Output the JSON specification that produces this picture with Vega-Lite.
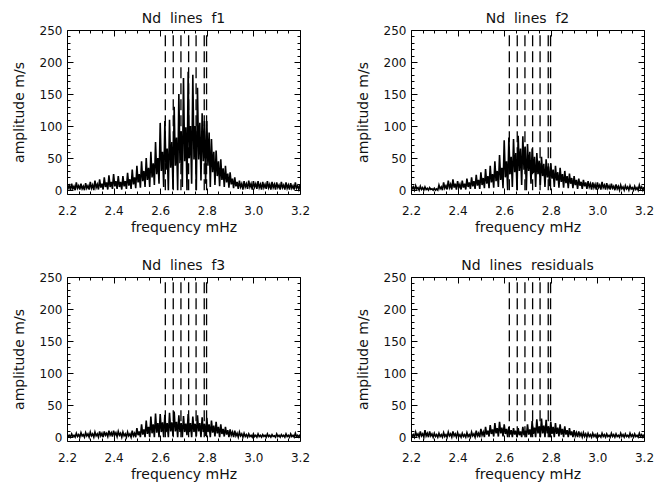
{
"$schema":"https://vega.github.io/schema/vega-lite/v6.json",
"autosize":{"type":"none"},
"padding":{"left":67,"top":30,"right":598,"bottom":453},
"background":"white",
"columns":2,
"spacing":{"row":83,"column":111},
"bounds":"flush",
"config":{
 "view":{"stroke":"black","strokeWidth":1},
 "font":"DejaVu Sans",
 "axis":{"grid":false,"domain":false,"labelFont":"DejaVu Sans","labelFontSize":12,"labelColor":"#111","titleFont":"DejaVu Sans","titleFontSize":14,"titleFontWeight":"normal","titleColor":"#111","tickColor":"black","tickWidth":1,"labelFlush":false,"labelOverlap":false},
 "title":{"fontSize":14,"fontWeight":"normal","color":"#111","offset":-2,"frame":"group","font":"DejaVu Sans"}
},
"datasets":{
"lines":[{"x":2.622},{"x":2.656},{"x":2.689},{"x":2.722},{"x":2.754},{"x":2.789},{"x":2.799}],
"f1":[{"x":2.2,"y":11},{"x":2.205,"y":3},{"x":2.21,"y":7},{"x":2.215,"y":0},{"x":2.22,"y":10},{"x":2.225,"y":2},{"x":2.23,"y":6},{"x":2.235,"y":0},{"x":2.24,"y":12},{"x":2.245,"y":3},{"x":2.25,"y":7},{"x":2.255,"y":1},{"x":2.26,"y":10},{"x":2.265,"y":2},{"x":2.27,"y":6},{"x":2.275,"y":0},{"x":2.28,"y":11},{"x":2.285,"y":3},{"x":2.29,"y":7},{"x":2.295,"y":1},{"x":2.3,"y":13},{"x":2.305,"y":3},{"x":2.31,"y":8},{"x":2.315,"y":0},{"x":2.32,"y":15},{"x":2.325,"y":4},{"x":2.33,"y":9},{"x":2.335,"y":1},{"x":2.34,"y":17},{"x":2.345,"y":4},{"x":2.35,"y":10},{"x":2.355,"y":1},{"x":2.36,"y":20},{"x":2.365,"y":5},{"x":2.37,"y":12},{"x":2.375,"y":1},{"x":2.38,"y":23},{"x":2.385,"y":5},{"x":2.39,"y":13},{"x":2.395,"y":2},{"x":2.4,"y":25},{"x":2.405,"y":6},{"x":2.41,"y":14},{"x":2.415,"y":2},{"x":2.42,"y":22},{"x":2.425,"y":5},{"x":2.43,"y":13},{"x":2.435,"y":1},{"x":2.44,"y":22},{"x":2.445,"y":6},{"x":2.45,"y":14},{"x":2.455,"y":2},{"x":2.46,"y":27},{"x":2.465,"y":7},{"x":2.47,"y":17},{"x":2.475,"y":2},{"x":2.48,"y":32},{"x":2.485,"y":9},{"x":2.49,"y":20},{"x":2.495,"y":3},{"x":2.5,"y":38},{"x":2.505,"y":12},{"x":2.51,"y":25},{"x":2.515,"y":4},{"x":2.52,"y":45},{"x":2.525,"y":14},{"x":2.53,"y":30},{"x":2.535,"y":5},{"x":2.54,"y":50},{"x":2.545,"y":16},{"x":2.55,"y":35},{"x":2.555,"y":5},{"x":2.56,"y":60},{"x":2.565,"y":20},{"x":2.57,"y":42},{"x":2.575,"y":8},{"x":2.58,"y":75},{"x":2.585,"y":25},{"x":2.59,"y":50},{"x":2.595,"y":10},{"x":2.6,"y":105},{"x":2.605,"y":30},{"x":2.61,"y":60},{"x":2.615,"y":5},{"x":2.62,"y":108},{"x":2.625,"y":32},{"x":2.63,"y":65},{"x":2.635,"y":0},{"x":2.64,"y":110},{"x":2.645,"y":35},{"x":2.65,"y":75},{"x":2.655,"y":2},{"x":2.66,"y":130},{"x":2.665,"y":38},{"x":2.67,"y":82},{"x":2.675,"y":0},{"x":2.68,"y":150},{"x":2.685,"y":42},{"x":2.69,"y":92},{"x":2.695,"y":5},{"x":2.7,"y":175},{"x":2.705,"y":45},{"x":2.71,"y":98},{"x":2.715,"y":0},{"x":2.72,"y":185},{"x":2.725,"y":50},{"x":2.73,"y":100},{"x":2.735,"y":10},{"x":2.74,"y":180},{"x":2.745,"y":48},{"x":2.75,"y":100},{"x":2.755,"y":0},{"x":2.76,"y":160},{"x":2.765,"y":48},{"x":2.77,"y":105},{"x":2.775,"y":15},{"x":2.78,"y":120},{"x":2.785,"y":45},{"x":2.79,"y":108},{"x":2.795,"y":10},{"x":2.8,"y":108},{"x":2.805,"y":38},{"x":2.81,"y":90},{"x":2.815,"y":5},{"x":2.82,"y":80},{"x":2.825,"y":28},{"x":2.83,"y":60},{"x":2.835,"y":8},{"x":2.84,"y":62},{"x":2.845,"y":22},{"x":2.85,"y":45},{"x":2.855,"y":6},{"x":2.86,"y":48},{"x":2.865,"y":16},{"x":2.87,"y":34},{"x":2.875,"y":5},{"x":2.88,"y":38},{"x":2.885,"y":12},{"x":2.89,"y":26},{"x":2.895,"y":4},{"x":2.9,"y":28},{"x":2.905,"y":9},{"x":2.91,"y":18},{"x":2.915,"y":3},{"x":2.92,"y":20},{"x":2.925,"y":6},{"x":2.93,"y":13},{"x":2.935,"y":2},{"x":2.94,"y":15},{"x":2.945,"y":5},{"x":2.95,"y":10},{"x":2.955,"y":1},{"x":2.96,"y":14},{"x":2.965,"y":5},{"x":2.97,"y":10},{"x":2.975,"y":2},{"x":2.98,"y":15},{"x":2.985,"y":5},{"x":2.99,"y":10},{"x":2.995,"y":1},{"x":3.0,"y":14},{"x":3.005,"y":5},{"x":3.01,"y":10},{"x":3.015,"y":2},{"x":3.02,"y":14},{"x":3.025,"y":4},{"x":3.03,"y":9},{"x":3.035,"y":1},{"x":3.04,"y":13},{"x":3.045,"y":4},{"x":3.05,"y":9},{"x":3.055,"y":2},{"x":3.06,"y":14},{"x":3.065,"y":4},{"x":3.07,"y":9},{"x":3.075,"y":1},{"x":3.08,"y":13},{"x":3.085,"y":4},{"x":3.09,"y":9},{"x":3.095,"y":1},{"x":3.1,"y":12},{"x":3.105,"y":4},{"x":3.11,"y":8},{"x":3.115,"y":1},{"x":3.12,"y":13},{"x":3.125,"y":4},{"x":3.13,"y":8},{"x":3.135,"y":1},{"x":3.14,"y":12},{"x":3.145,"y":3},{"x":3.15,"y":8},{"x":3.155,"y":1},{"x":3.16,"y":11},{"x":3.165,"y":3},{"x":3.17,"y":7},{"x":3.175,"y":1},{"x":3.18,"y":12},{"x":3.185,"y":3},{"x":3.19,"y":7},{"x":3.195,"y":1},{"x":3.2,"y":8}],
"f2":[{"x":2.2,"y":8},{"x":2.205,"y":2},{"x":2.21,"y":5},{"x":2.215,"y":0},{"x":2.22,"y":7},{"x":2.225,"y":2},{"x":2.23,"y":4},{"x":2.235,"y":0},{"x":2.24,"y":6},{"x":2.245,"y":1},{"x":2.25,"y":4},{"x":2.255,"y":0},{"x":2.26,"y":5},{"x":2.265,"y":1},{"x":2.27,"y":3},{"x":2.275,"y":0},{"x":2.28,"y":4},{"x":2.285,"y":1},{"x":2.29,"y":2},{"x":2.295,"y":0},{"x":2.3,"y":3},{"x":2.305,"y":0},{"x":2.31,"y":2},{"x":2.315,"y":0},{"x":2.32,"y":8},{"x":2.325,"y":2},{"x":2.33,"y":5},{"x":2.335,"y":0},{"x":2.34,"y":12},{"x":2.345,"y":3},{"x":2.35,"y":7},{"x":2.355,"y":1},{"x":2.36,"y":15},{"x":2.365,"y":4},{"x":2.37,"y":9},{"x":2.375,"y":1},{"x":2.38,"y":17},{"x":2.385,"y":4},{"x":2.39,"y":10},{"x":2.395,"y":1},{"x":2.4,"y":14},{"x":2.405,"y":4},{"x":2.41,"y":9},{"x":2.415,"y":1},{"x":2.42,"y":15},{"x":2.425,"y":4},{"x":2.43,"y":10},{"x":2.435,"y":1},{"x":2.44,"y":18},{"x":2.445,"y":5},{"x":2.45,"y":12},{"x":2.455,"y":2},{"x":2.46,"y":20},{"x":2.465,"y":6},{"x":2.47,"y":14},{"x":2.475,"y":2},{"x":2.48,"y":24},{"x":2.485,"y":7},{"x":2.49,"y":16},{"x":2.495,"y":2},{"x":2.5,"y":28},{"x":2.505,"y":8},{"x":2.51,"y":19},{"x":2.515,"y":3},{"x":2.52,"y":33},{"x":2.525,"y":10},{"x":2.53,"y":22},{"x":2.535,"y":3},{"x":2.54,"y":38},{"x":2.545,"y":12},{"x":2.55,"y":25},{"x":2.555,"y":4},{"x":2.56,"y":45},{"x":2.565,"y":14},{"x":2.57,"y":30},{"x":2.575,"y":5},{"x":2.58,"y":55},{"x":2.585,"y":16},{"x":2.59,"y":35},{"x":2.595,"y":3},{"x":2.6,"y":78},{"x":2.605,"y":20},{"x":2.61,"y":45},{"x":2.615,"y":0},{"x":2.62,"y":82},{"x":2.625,"y":25},{"x":2.63,"y":52},{"x":2.635,"y":5},{"x":2.64,"y":80},{"x":2.645,"y":28},{"x":2.65,"y":58},{"x":2.655,"y":0},{"x":2.66,"y":85},{"x":2.665,"y":30},{"x":2.67,"y":65},{"x":2.675,"y":8},{"x":2.68,"y":84},{"x":2.685,"y":32},{"x":2.69,"y":68},{"x":2.695,"y":0},{"x":2.7,"y":72},{"x":2.705,"y":30},{"x":2.71,"y":60},{"x":2.715,"y":10},{"x":2.72,"y":65},{"x":2.725,"y":27},{"x":2.73,"y":52},{"x":2.735,"y":5},{"x":2.74,"y":58},{"x":2.745,"y":25},{"x":2.75,"y":46},{"x":2.755,"y":8},{"x":2.76,"y":52},{"x":2.765,"y":22},{"x":2.77,"y":41},{"x":2.775,"y":5},{"x":2.78,"y":48},{"x":2.785,"y":20},{"x":2.79,"y":37},{"x":2.795,"y":6},{"x":2.8,"y":42},{"x":2.805,"y":18},{"x":2.81,"y":32},{"x":2.815,"y":5},{"x":2.82,"y":38},{"x":2.825,"y":15},{"x":2.83,"y":28},{"x":2.835,"y":4},{"x":2.84,"y":35},{"x":2.845,"y":13},{"x":2.85,"y":25},{"x":2.855,"y":4},{"x":2.86,"y":30},{"x":2.865,"y":11},{"x":2.87,"y":22},{"x":2.875,"y":3},{"x":2.88,"y":26},{"x":2.885,"y":10},{"x":2.89,"y":19},{"x":2.895,"y":3},{"x":2.9,"y":22},{"x":2.905,"y":8},{"x":2.91,"y":16},{"x":2.915,"y":2},{"x":2.92,"y":18},{"x":2.925,"y":7},{"x":2.93,"y":13},{"x":2.935,"y":2},{"x":2.94,"y":16},{"x":2.945,"y":6},{"x":2.95,"y":12},{"x":2.955,"y":2},{"x":2.96,"y":14},{"x":2.965,"y":5},{"x":2.97,"y":10},{"x":2.975,"y":1},{"x":2.98,"y":12},{"x":2.985,"y":4},{"x":2.99,"y":9},{"x":2.995,"y":1},{"x":3.0,"y":12},{"x":3.005,"y":4},{"x":3.01,"y":8},{"x":3.015,"y":1},{"x":3.02,"y":13},{"x":3.025,"y":4},{"x":3.03,"y":8},{"x":3.035,"y":1},{"x":3.04,"y":11},{"x":3.045,"y":3},{"x":3.05,"y":7},{"x":3.055,"y":1},{"x":3.06,"y":10},{"x":3.065,"y":3},{"x":3.07,"y":6},{"x":3.075,"y":0},{"x":3.08,"y":9},{"x":3.085,"y":2},{"x":3.09,"y":6},{"x":3.095,"y":0},{"x":3.1,"y":8},{"x":3.105,"y":2},{"x":3.11,"y":5},{"x":3.115,"y":0},{"x":3.12,"y":7},{"x":3.125,"y":2},{"x":3.13,"y":5},{"x":3.135,"y":0},{"x":3.14,"y":7},{"x":3.145,"y":2},{"x":3.15,"y":4},{"x":3.155,"y":0},{"x":3.16,"y":6},{"x":3.165,"y":1},{"x":3.17,"y":4},{"x":3.175,"y":0},{"x":3.18,"y":8},{"x":3.185,"y":2},{"x":3.19,"y":5},{"x":3.195,"y":0},{"x":3.2,"y":5}],
"f3":[{"x":2.2,"y":6},{"x":2.205,"y":1},{"x":2.21,"y":3},{"x":2.215,"y":0},{"x":2.22,"y":5},{"x":2.225,"y":1},{"x":2.23,"y":3},{"x":2.235,"y":0},{"x":2.24,"y":6},{"x":2.245,"y":1},{"x":2.25,"y":4},{"x":2.255,"y":0},{"x":2.26,"y":7},{"x":2.265,"y":2},{"x":2.27,"y":4},{"x":2.275,"y":0},{"x":2.28,"y":7},{"x":2.285,"y":2},{"x":2.29,"y":5},{"x":2.295,"y":0},{"x":2.3,"y":8},{"x":2.305,"y":2},{"x":2.31,"y":5},{"x":2.315,"y":0},{"x":2.32,"y":8},{"x":2.325,"y":2},{"x":2.33,"y":5},{"x":2.335,"y":0},{"x":2.34,"y":9},{"x":2.345,"y":2},{"x":2.35,"y":6},{"x":2.355,"y":0},{"x":2.36,"y":9},{"x":2.365,"y":3},{"x":2.37,"y":6},{"x":2.375,"y":1},{"x":2.38,"y":10},{"x":2.385,"y":3},{"x":2.39,"y":7},{"x":2.395,"y":1},{"x":2.4,"y":10},{"x":2.405,"y":3},{"x":2.41,"y":7},{"x":2.415,"y":1},{"x":2.42,"y":9},{"x":2.425,"y":3},{"x":2.43,"y":6},{"x":2.435,"y":0},{"x":2.44,"y":8},{"x":2.445,"y":2},{"x":2.45,"y":5},{"x":2.455,"y":0},{"x":2.46,"y":8},{"x":2.465,"y":2},{"x":2.47,"y":5},{"x":2.475,"y":0},{"x":2.48,"y":10},{"x":2.485,"y":2},{"x":2.49,"y":6},{"x":2.495,"y":0},{"x":2.5,"y":14},{"x":2.505,"y":3},{"x":2.51,"y":9},{"x":2.515,"y":0},{"x":2.52,"y":20},{"x":2.525,"y":4},{"x":2.53,"y":12},{"x":2.535,"y":0},{"x":2.54,"y":26},{"x":2.545,"y":5},{"x":2.55,"y":16},{"x":2.555,"y":0},{"x":2.56,"y":32},{"x":2.565,"y":6},{"x":2.57,"y":20},{"x":2.575,"y":0},{"x":2.58,"y":37},{"x":2.585,"y":7},{"x":2.59,"y":22},{"x":2.595,"y":0},{"x":2.6,"y":36},{"x":2.605,"y":8},{"x":2.61,"y":23},{"x":2.615,"y":0},{"x":2.62,"y":35},{"x":2.625,"y":8},{"x":2.63,"y":22},{"x":2.635,"y":0},{"x":2.64,"y":38},{"x":2.645,"y":9},{"x":2.65,"y":23},{"x":2.655,"y":2},{"x":2.66,"y":40},{"x":2.665,"y":9},{"x":2.67,"y":24},{"x":2.675,"y":0},{"x":2.68,"y":34},{"x":2.685,"y":8},{"x":2.69,"y":22},{"x":2.695,"y":0},{"x":2.7,"y":33},{"x":2.705,"y":8},{"x":2.71,"y":21},{"x":2.715,"y":3},{"x":2.72,"y":36},{"x":2.725,"y":8},{"x":2.73,"y":22},{"x":2.735,"y":0},{"x":2.74,"y":32},{"x":2.745,"y":8},{"x":2.75,"y":21},{"x":2.755,"y":2},{"x":2.76,"y":34},{"x":2.765,"y":9},{"x":2.77,"y":22},{"x":2.775,"y":0},{"x":2.78,"y":31},{"x":2.785,"y":8},{"x":2.79,"y":21},{"x":2.795,"y":2},{"x":2.8,"y":30},{"x":2.805,"y":8},{"x":2.81,"y":20},{"x":2.815,"y":0},{"x":2.82,"y":26},{"x":2.825,"y":7},{"x":2.83,"y":18},{"x":2.835,"y":1},{"x":2.84,"y":24},{"x":2.845,"y":6},{"x":2.85,"y":16},{"x":2.855,"y":0},{"x":2.86,"y":20},{"x":2.865,"y":5},{"x":2.87,"y":13},{"x":2.875,"y":1},{"x":2.88,"y":16},{"x":2.885,"y":4},{"x":2.89,"y":11},{"x":2.895,"y":0},{"x":2.9,"y":12},{"x":2.905,"y":3},{"x":2.91,"y":8},{"x":2.915,"y":0},{"x":2.92,"y":10},{"x":2.925,"y":2},{"x":2.93,"y":6},{"x":2.935,"y":0},{"x":2.94,"y":8},{"x":2.945,"y":2},{"x":2.95,"y":5},{"x":2.955,"y":0},{"x":2.96,"y":6},{"x":2.965,"y":1},{"x":2.97,"y":4},{"x":2.975,"y":0},{"x":2.98,"y":5},{"x":2.985,"y":1},{"x":2.99,"y":3},{"x":2.995,"y":0},{"x":3.0,"y":5},{"x":3.005,"y":1},{"x":3.01,"y":3},{"x":3.015,"y":0},{"x":3.02,"y":5},{"x":3.025,"y":1},{"x":3.03,"y":3},{"x":3.035,"y":0},{"x":3.04,"y":4},{"x":3.045,"y":1},{"x":3.05,"y":3},{"x":3.055,"y":0},{"x":3.06,"y":5},{"x":3.065,"y":1},{"x":3.07,"y":3},{"x":3.075,"y":0},{"x":3.08,"y":4},{"x":3.085,"y":1},{"x":3.09,"y":2},{"x":3.095,"y":0},{"x":3.1,"y":5},{"x":3.105,"y":1},{"x":3.11,"y":3},{"x":3.115,"y":0},{"x":3.12,"y":4},{"x":3.125,"y":1},{"x":3.13,"y":3},{"x":3.135,"y":0},{"x":3.14,"y":5},{"x":3.145,"y":1},{"x":3.15,"y":3},{"x":3.155,"y":0},{"x":3.16,"y":5},{"x":3.165,"y":1},{"x":3.17,"y":3},{"x":3.175,"y":0},{"x":3.18,"y":6},{"x":3.185,"y":1},{"x":3.19,"y":3},{"x":3.195,"y":0},{"x":3.2,"y":4}],
"res":[{"x":2.2,"y":7},{"x":2.205,"y":1},{"x":2.21,"y":4},{"x":2.215,"y":0},{"x":2.22,"y":8},{"x":2.225,"y":2},{"x":2.23,"y":5},{"x":2.235,"y":0},{"x":2.24,"y":9},{"x":2.245,"y":2},{"x":2.25,"y":5},{"x":2.255,"y":0},{"x":2.26,"y":11},{"x":2.265,"y":2},{"x":2.27,"y":6},{"x":2.275,"y":0},{"x":2.28,"y":9},{"x":2.285,"y":2},{"x":2.29,"y":5},{"x":2.295,"y":0},{"x":2.3,"y":6},{"x":2.305,"y":1},{"x":2.31,"y":4},{"x":2.315,"y":0},{"x":2.32,"y":6},{"x":2.325,"y":1},{"x":2.33,"y":4},{"x":2.335,"y":0},{"x":2.34,"y":7},{"x":2.345,"y":1},{"x":2.35,"y":4},{"x":2.355,"y":0},{"x":2.36,"y":8},{"x":2.365,"y":2},{"x":2.37,"y":5},{"x":2.375,"y":0},{"x":2.38,"y":9},{"x":2.385,"y":2},{"x":2.39,"y":5},{"x":2.395,"y":0},{"x":2.4,"y":7},{"x":2.405,"y":1},{"x":2.41,"y":4},{"x":2.415,"y":0},{"x":2.42,"y":6},{"x":2.425,"y":1},{"x":2.43,"y":4},{"x":2.435,"y":0},{"x":2.44,"y":7},{"x":2.445,"y":1},{"x":2.45,"y":4},{"x":2.455,"y":0},{"x":2.46,"y":8},{"x":2.465,"y":2},{"x":2.47,"y":5},{"x":2.475,"y":0},{"x":2.48,"y":10},{"x":2.485,"y":2},{"x":2.49,"y":6},{"x":2.495,"y":0},{"x":2.5,"y":13},{"x":2.505,"y":3},{"x":2.51,"y":8},{"x":2.515,"y":0},{"x":2.52,"y":16},{"x":2.525,"y":4},{"x":2.53,"y":10},{"x":2.535,"y":1},{"x":2.54,"y":19},{"x":2.545,"y":5},{"x":2.55,"y":12},{"x":2.555,"y":1},{"x":2.56,"y":22},{"x":2.565,"y":6},{"x":2.57,"y":14},{"x":2.575,"y":1},{"x":2.58,"y":24},{"x":2.585,"y":6},{"x":2.59,"y":15},{"x":2.595,"y":1},{"x":2.6,"y":20},{"x":2.605,"y":5},{"x":2.61,"y":13},{"x":2.615,"y":0},{"x":2.62,"y":16},{"x":2.625,"y":4},{"x":2.63,"y":11},{"x":2.635,"y":0},{"x":2.64,"y":14},{"x":2.645,"y":4},{"x":2.65,"y":10},{"x":2.655,"y":0},{"x":2.66,"y":14},{"x":2.665,"y":3},{"x":2.67,"y":9},{"x":2.675,"y":0},{"x":2.68,"y":16},{"x":2.685,"y":3},{"x":2.69,"y":10},{"x":2.695,"y":0},{"x":2.7,"y":20},{"x":2.705,"y":4},{"x":2.71,"y":12},{"x":2.715,"y":0},{"x":2.72,"y":25},{"x":2.725,"y":5},{"x":2.73,"y":15},{"x":2.735,"y":0},{"x":2.74,"y":28},{"x":2.745,"y":6},{"x":2.75,"y":17},{"x":2.755,"y":0},{"x":2.76,"y":29},{"x":2.765,"y":6},{"x":2.77,"y":18},{"x":2.775,"y":0},{"x":2.78,"y":27},{"x":2.785,"y":6},{"x":2.79,"y":17},{"x":2.795,"y":0},{"x":2.8,"y":24},{"x":2.805,"y":5},{"x":2.81,"y":16},{"x":2.815,"y":0},{"x":2.82,"y":22},{"x":2.825,"y":5},{"x":2.83,"y":15},{"x":2.835,"y":1},{"x":2.84,"y":20},{"x":2.845,"y":4},{"x":2.85,"y":13},{"x":2.855,"y":0},{"x":2.86,"y":17},{"x":2.865,"y":4},{"x":2.87,"y":11},{"x":2.875,"y":0},{"x":2.88,"y":14},{"x":2.885,"y":3},{"x":2.89,"y":9},{"x":2.895,"y":0},{"x":2.9,"y":11},{"x":2.905,"y":2},{"x":2.91,"y":7},{"x":2.915,"y":0},{"x":2.92,"y":9},{"x":2.925,"y":2},{"x":2.93,"y":6},{"x":2.935,"y":0},{"x":2.94,"y":7},{"x":2.945,"y":1},{"x":2.95,"y":5},{"x":2.955,"y":0},{"x":2.96,"y":6},{"x":2.965,"y":1},{"x":2.97,"y":4},{"x":2.975,"y":0},{"x":2.98,"y":6},{"x":2.985,"y":1},{"x":2.99,"y":4},{"x":2.995,"y":0},{"x":3.0,"y":5},{"x":3.005,"y":1},{"x":3.01,"y":3},{"x":3.015,"y":0},{"x":3.02,"y":6},{"x":3.025,"y":1},{"x":3.03,"y":4},{"x":3.035,"y":0},{"x":3.04,"y":5},{"x":3.045,"y":1},{"x":3.05,"y":3},{"x":3.055,"y":0},{"x":3.06,"y":6},{"x":3.065,"y":1},{"x":3.07,"y":4},{"x":3.075,"y":0},{"x":3.08,"y":5},{"x":3.085,"y":1},{"x":3.09,"y":3},{"x":3.095,"y":0},{"x":3.1,"y":6},{"x":3.105,"y":1},{"x":3.11,"y":4},{"x":3.115,"y":0},{"x":3.12,"y":5},{"x":3.125,"y":1},{"x":3.13,"y":3},{"x":3.135,"y":0},{"x":3.14,"y":6},{"x":3.145,"y":1},{"x":3.15,"y":4},{"x":3.155,"y":0},{"x":3.16,"y":5},{"x":3.165,"y":1},{"x":3.17,"y":3},{"x":3.175,"y":0},{"x":3.18,"y":6},{"x":3.185,"y":1},{"x":3.19,"y":4},{"x":3.195,"y":0},{"x":3.2,"y":4}]
},
"concat":[
{"title":"Nd\u00a0 lines\u00a0 f1","width":233,"height":164,"resolve":{"axis":{"x":"independent","y":"independent"}},
 "layer":[
  {"data":{"name":"f1"},"mark":{"type":"line","color":"black","strokeWidth":1.6,"clip":true},
   "encoding":{
    "x":{"field":"x","type":"quantitative","scale":{"domain":[2.2,3.2],"nice":false,"zero":false},"axis":{"orient":"bottom","title":"frequency mHz","values":[2.2,2.25,2.3,2.35,2.4,2.45,2.5,2.55,2.6,2.65,2.7,2.75,2.8,2.85,2.9,2.95,3.0,3.05,3.1,3.15,3.2],"tickSize":{"condition":{"test":"abs(datum.value*5-round(datum.value*5))<0.01","value":-6},"value":-3},"labelExpr":"abs(datum.value*5-round(datum.value*5))<0.01 ? format(datum.value,'.1f') : ''","labelPadding":17,"titlePadding":1}},
    "y":{"field":"y","type":"quantitative","scale":{"domain":[-6,250],"nice":false,"zero":false},"axis":{"orient":"left","title":"amplitude m/s","values":[0,10,20,30,40,50,60,70,80,90,100,110,120,130,140,150,160,170,180,190,200,210,220,230,240,250],"tickSize":{"condition":{"test":"datum.value%50===0","value":-6},"value":-3},"labelExpr":"datum.value%50===0 ? datum.label : ''","labelPadding":11,"titlePadding":13}}}},
  {"data":{"name":"lines"},"mark":{"type":"rule","color":"black","strokeWidth":1.3,"strokeDash":[11,5]},
   "encoding":{
    "x":{"field":"x","type":"quantitative","scale":{"domain":[2.2,3.2],"nice":false,"zero":false},"axis":{"orient":"top","title":null,"labels":false,"values":[2.2,2.25,2.3,2.35,2.4,2.45,2.5,2.55,2.6,2.65,2.7,2.75,2.8,2.85,2.9,2.95,3.0,3.05,3.1,3.15,3.2],"tickSize":{"condition":{"test":"abs(datum.value*5-round(datum.value*5))<0.01","value":-6},"value":-3}}},
    "y":{"datum":0,"type":"quantitative","scale":{"domain":[-6,250],"nice":false,"zero":false},"axis":{"orient":"right","title":null,"labels":false,"values":[0,10,20,30,40,50,60,70,80,90,100,110,120,130,140,150,160,170,180,190,200,210,220,230,240,250],"tickSize":{"condition":{"test":"datum.value%50===0","value":-6},"value":-3}}},
    "y2":{"datum":250}}}
 ]},
{"title":"Nd\u00a0 lines\u00a0 f2","width":233,"height":164,"resolve":{"axis":{"x":"independent","y":"independent"}},
 "layer":[
  {"data":{"name":"f2"},"mark":{"type":"line","color":"black","strokeWidth":1.6,"clip":true},
   "encoding":{
    "x":{"field":"x","type":"quantitative","scale":{"domain":[2.2,3.2],"nice":false,"zero":false},"axis":{"orient":"bottom","title":"frequency mHz","values":[2.2,2.25,2.3,2.35,2.4,2.45,2.5,2.55,2.6,2.65,2.7,2.75,2.8,2.85,2.9,2.95,3.0,3.05,3.1,3.15,3.2],"tickSize":{"condition":{"test":"abs(datum.value*5-round(datum.value*5))<0.01","value":-6},"value":-3},"labelExpr":"abs(datum.value*5-round(datum.value*5))<0.01 ? format(datum.value,'.1f') : ''","labelPadding":17,"titlePadding":1}},
    "y":{"field":"y","type":"quantitative","scale":{"domain":[-6,250],"nice":false,"zero":false},"axis":{"orient":"left","title":"amplitude m/s","values":[0,10,20,30,40,50,60,70,80,90,100,110,120,130,140,150,160,170,180,190,200,210,220,230,240,250],"tickSize":{"condition":{"test":"datum.value%50===0","value":-6},"value":-3},"labelExpr":"datum.value%50===0 ? datum.label : ''","labelPadding":11,"titlePadding":13}}}},
  {"data":{"name":"lines"},"mark":{"type":"rule","color":"black","strokeWidth":1.3,"strokeDash":[11,5]},
   "encoding":{
    "x":{"field":"x","type":"quantitative","scale":{"domain":[2.2,3.2],"nice":false,"zero":false},"axis":{"orient":"top","title":null,"labels":false,"values":[2.2,2.25,2.3,2.35,2.4,2.45,2.5,2.55,2.6,2.65,2.7,2.75,2.8,2.85,2.9,2.95,3.0,3.05,3.1,3.15,3.2],"tickSize":{"condition":{"test":"abs(datum.value*5-round(datum.value*5))<0.01","value":-6},"value":-3}}},
    "y":{"datum":0,"type":"quantitative","scale":{"domain":[-6,250],"nice":false,"zero":false},"axis":{"orient":"right","title":null,"labels":false,"values":[0,10,20,30,40,50,60,70,80,90,100,110,120,130,140,150,160,170,180,190,200,210,220,230,240,250],"tickSize":{"condition":{"test":"datum.value%50===0","value":-6},"value":-3}}},
    "y2":{"datum":250}}}
 ]},
{"title":"Nd\u00a0 lines\u00a0 f3","width":233,"height":164,"resolve":{"axis":{"x":"independent","y":"independent"}},
 "layer":[
  {"data":{"name":"f3"},"mark":{"type":"line","color":"black","strokeWidth":1.6,"clip":true},
   "encoding":{
    "x":{"field":"x","type":"quantitative","scale":{"domain":[2.2,3.2],"nice":false,"zero":false},"axis":{"orient":"bottom","title":"frequency mHz","values":[2.2,2.25,2.3,2.35,2.4,2.45,2.5,2.55,2.6,2.65,2.7,2.75,2.8,2.85,2.9,2.95,3.0,3.05,3.1,3.15,3.2],"tickSize":{"condition":{"test":"abs(datum.value*5-round(datum.value*5))<0.01","value":-6},"value":-3},"labelExpr":"abs(datum.value*5-round(datum.value*5))<0.01 ? format(datum.value,'.1f') : ''","labelPadding":17,"titlePadding":1}},
    "y":{"field":"y","type":"quantitative","scale":{"domain":[-6,250],"nice":false,"zero":false},"axis":{"orient":"left","title":"amplitude m/s","values":[0,10,20,30,40,50,60,70,80,90,100,110,120,130,140,150,160,170,180,190,200,210,220,230,240,250],"tickSize":{"condition":{"test":"datum.value%50===0","value":-6},"value":-3},"labelExpr":"datum.value%50===0 ? datum.label : ''","labelPadding":11,"titlePadding":13}}}},
  {"data":{"name":"lines"},"mark":{"type":"rule","color":"black","strokeWidth":1.3,"strokeDash":[11,5]},
   "encoding":{
    "x":{"field":"x","type":"quantitative","scale":{"domain":[2.2,3.2],"nice":false,"zero":false},"axis":{"orient":"top","title":null,"labels":false,"values":[2.2,2.25,2.3,2.35,2.4,2.45,2.5,2.55,2.6,2.65,2.7,2.75,2.8,2.85,2.9,2.95,3.0,3.05,3.1,3.15,3.2],"tickSize":{"condition":{"test":"abs(datum.value*5-round(datum.value*5))<0.01","value":-6},"value":-3}}},
    "y":{"datum":0,"type":"quantitative","scale":{"domain":[-6,250],"nice":false,"zero":false},"axis":{"orient":"right","title":null,"labels":false,"values":[0,10,20,30,40,50,60,70,80,90,100,110,120,130,140,150,160,170,180,190,200,210,220,230,240,250],"tickSize":{"condition":{"test":"datum.value%50===0","value":-6},"value":-3}}},
    "y2":{"datum":250}}}
 ]},
{"title":"Nd\u00a0 lines\u00a0 residuals","width":233,"height":164,"resolve":{"axis":{"x":"independent","y":"independent"}},
 "layer":[
  {"data":{"name":"res"},"mark":{"type":"line","color":"black","strokeWidth":1.6,"clip":true},
   "encoding":{
    "x":{"field":"x","type":"quantitative","scale":{"domain":[2.2,3.2],"nice":false,"zero":false},"axis":{"orient":"bottom","title":"frequency mHz","values":[2.2,2.25,2.3,2.35,2.4,2.45,2.5,2.55,2.6,2.65,2.7,2.75,2.8,2.85,2.9,2.95,3.0,3.05,3.1,3.15,3.2],"tickSize":{"condition":{"test":"abs(datum.value*5-round(datum.value*5))<0.01","value":-6},"value":-3},"labelExpr":"abs(datum.value*5-round(datum.value*5))<0.01 ? format(datum.value,'.1f') : ''","labelPadding":17,"titlePadding":1}},
    "y":{"field":"y","type":"quantitative","scale":{"domain":[-6,250],"nice":false,"zero":false},"axis":{"orient":"left","title":"amplitude m/s","values":[0,10,20,30,40,50,60,70,80,90,100,110,120,130,140,150,160,170,180,190,200,210,220,230,240,250],"tickSize":{"condition":{"test":"datum.value%50===0","value":-6},"value":-3},"labelExpr":"datum.value%50===0 ? datum.label : ''","labelPadding":11,"titlePadding":13}}}},
  {"data":{"name":"lines"},"mark":{"type":"rule","color":"black","strokeWidth":1.3,"strokeDash":[11,5]},
   "encoding":{
    "x":{"field":"x","type":"quantitative","scale":{"domain":[2.2,3.2],"nice":false,"zero":false},"axis":{"orient":"top","title":null,"labels":false,"values":[2.2,2.25,2.3,2.35,2.4,2.45,2.5,2.55,2.6,2.65,2.7,2.75,2.8,2.85,2.9,2.95,3.0,3.05,3.1,3.15,3.2],"tickSize":{"condition":{"test":"abs(datum.value*5-round(datum.value*5))<0.01","value":-6},"value":-3}}},
    "y":{"datum":0,"type":"quantitative","scale":{"domain":[-6,250],"nice":false,"zero":false},"axis":{"orient":"right","title":null,"labels":false,"values":[0,10,20,30,40,50,60,70,80,90,100,110,120,130,140,150,160,170,180,190,200,210,220,230,240,250],"tickSize":{"condition":{"test":"datum.value%50===0","value":-6},"value":-3}}},
    "y2":{"datum":250}}}
 ]}
]
}
